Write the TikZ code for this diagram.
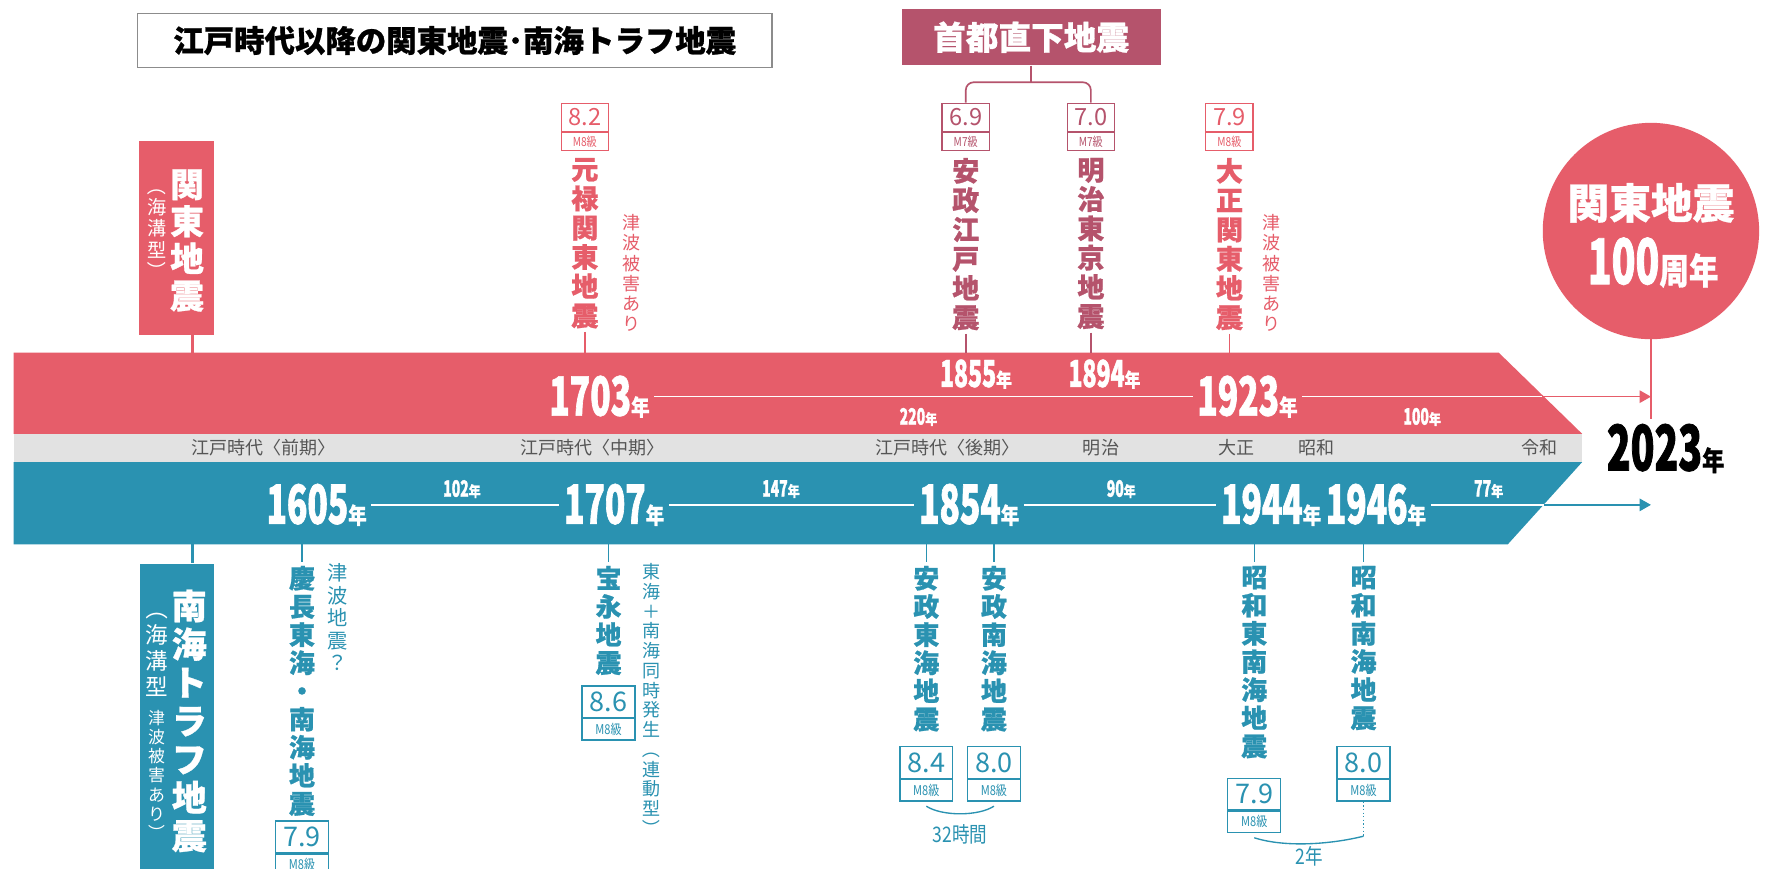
\documentclass[tikz,border=0pt]{standalone}
\usepackage{fontspec}
\usepackage{graphicx}
\setmainfont{Noto Sans CJK JP}[BoldFeatures={FakeBold=0.8}]
\newfontfamily\cond[FakeStretch=0.62, BoldFeatures={FakeBold=1.2}]{Noto Sans CJK JP}
\newfontfamily\narrow[FakeStretch=0.82, BoldFeatures={FakeBold=0.8}]{Noto Sans CJK JP}
\usetikzlibrary{arrows.meta}
\definecolor{kred}{HTML}{E65D6A}
\definecolor{kblue}{HTML}{2A92B1}
\definecolor{krose}{HTML}{B5536C}
\definecolor{kgray}{HTML}{E2E2E2}
\definecolor{ktext}{HTML}{555555}
\definecolor{kborder}{HTML}{8C8C8C}
\newcommand\yr[3]{{\cond\bfseries\fontsize{#2}{#2}\selectfont #1}{\narrow\bfseries\fontsize{#3}{#3}\selectfont 年}}
\newcommand\vlp{\rotatebox[origin=c]{-90}{（}}
\newcommand\vrp{\rotatebox[origin=c]{-90}{）}}
\begin{document}
\begin{tikzpicture}[x=1pt,y=-1pt,
  every node/.style={inner sep=0pt},
  vlab/.style={anchor=north, align=center, font=\bfseries\fontsize{24}{26}\selectfont},
  vlabB/.style={anchor=north, align=center, text=kblue, font=\bfseries\fontsize{23}{25}\selectfont},
  vnote/.style={anchor=north, align=center, font=\fontsize{16}{18}\selectfont},
  yrw/.style={text=white, inner sep=4pt},
  wline/.style={white, line width=1.3pt},
  tickl/.style={line width=1.3pt},
  magtop/.style={draw, line width=1.2pt, minimum width=42pt, minimum height=25pt, anchor=north, font=\fontsize{21}{21}\selectfont},
  magbot/.style={draw, line width=1.2pt, minimum width=42pt, minimum height=16pt, anchor=north, font=\narrow\fontsize{11}{11}\selectfont},
  magtopB/.style={magtop, draw=kblue, text=kblue, minimum width=47pt, minimum height=28pt, font=\fontsize{24}{24}\selectfont},
  magbotB/.style={magbot, draw=kblue, text=kblue, minimum width=47pt, minimum height=19pt, font=\narrow\fontsize{12}{12}\selectfont},
  era/.style={text=ktext, font=\fontsize{16}{16}\selectfont},
  arr/.style={line width=1.3pt, -{Triangle[length=10pt,width=11pt]}},
]
\useasboundingbox (0,0) rectangle (1568,771);
\fill[white] (0,0) rectangle (1568,771);
\clip (0,0) rectangle (1568,771);

% title and shuto box
\node[draw=kborder, line width=1.5pt, minimum width=563pt, minimum height=48pt, font=\bfseries\fontsize{27}{27}\selectfont] (title) at (403.5,36) {江戸時代以降の関東地震･南海トラフ地震};
\node[fill=krose, minimum width=230pt, minimum height=50pt, text=white, font=\bfseries\fontsize{29}{29}\selectfont] (shuto) at (915,33) {首都直下地震};

% bands
\fill[kred] (12,313) -- (1330,313) -- (1404,385) -- (12,385) -- cycle;
\fill[kgray] (12,385) rectangle (1404,410);
\fill[kblue] (12,410) -- (1404,410) -- (1338,483) -- (12,483) -- cycle;

% top magnitude boxes
\node[magtop, draw=kred, text=kred] (m82) at (519,91) {8.2};
\node[magbot, draw=kred, text=kred] (m82b) at (m82.south) {M8級};
\node[magtop, draw=krose, text=krose] (m69) at (857,91) {6.9};
\node[magbot, draw=krose, text=krose] (m69b) at (m69.south) {M7級};
\node[magtop, draw=krose, text=krose] (m70) at (968,91) {7.0};
\node[magbot, draw=krose, text=krose] (m70b) at (m70.south) {M7級};
\node[magtop, draw=kred, text=kred] (m79t) at (1091,91) {7.9};
\node[magbot, draw=kred, text=kred] (m79tb) at (m79t.south) {M8級};

% bracket
\coordinate (brj) at (915,73);
\draw[krose, line width=1.5pt, rounded corners=7pt] (m69.north) |- (brj) -| (m70.north);
\draw[krose, line width=1.5pt] (shuto.south) -- (brj);

% top labels
\node[vlab, text=kred] (genroku) at (519,140) {元\\禄\\関\\東\\地\\震};
\node[vnote, text=kred] (genrokuN) at (560,190) {津\\波\\被\\害\\あ\\り};
\node[vlab, text=krose] (ansei) at (857,140) {安\\政\\江\\戸\\地\\震};
\node[vlab, text=krose] (meiji) at (968,140) {明\\治\\東\\京\\地\\震};
\node[vlab, text=kred] (taisho) at (1091,140) {大\\正\\関\\東\\地\\震};
\node[vnote, text=kred] (taishoN) at (1128,190) {津\\波\\被\\害\\あ\\り};

\coordinate (rt1) at (519,313);
\coordinate (rt2) at (857,313);
\coordinate (rt3) at (968,313);
\coordinate (rt4) at (1091,313);
\draw[tickl, kred] ([yshift=-3pt]genroku.south) -- (rt1);
\draw[tickl, krose] ([yshift=-3pt]ansei.south) -- (rt2);
\draw[tickl, krose] ([yshift=-3pt]meiji.south) -- (rt3);
\draw[tickl, kred] ([yshift=-3pt]taisho.south) -- (rt4);

% Kanto box
\node[fill=kred, minimum width=67pt, minimum height=172pt, anchor=north west] (kbox) at (123,125) {};
\node[anchor=north, align=center, text=white, font=\bfseries\fontsize{30}{33}\selectfont] (kboxT) at (166,150) {関\\東\\地\\震};
\node[anchor=north, align=center, text=white, font=\fontsize{17}{19}\selectfont] (kboxS) at (139,156) {\vlp\\海\\溝\\型\\\vrp};
\coordinate (ktop) at (171,313);
\draw[kred, line width=3pt] (kbox.south -| ktop) -- (ktop);

% 100th anniversary circle
\node[circle, fill=kred, minimum size=192pt] (c100) at (1465,205) {};
\node[text=white, font=\bfseries\fontsize{37}{37}\selectfont] (c100a) at (1465,180) {関東地震};
\node[text=white] (c100b) at (1467,233) {{\cond\bfseries\fontsize{56}{56}\selectfont 100}{\narrow\bfseries\fontsize{32}{32}\selectfont 周年}};
\coordinate (vEnd) at (1465,372);
\draw[kred, line width=1.5pt] (c100.south) -- (vEnd);

% red band years
\node[yrw] (y1703) at (532,352) {\yr{1703}{48}{20}};
\node[yrw] (y1923) at (1107,352) {\yr{1923}{48}{20}};
\node[yrw] (y1855) at (866,332) {\yr{1855}{33}{17}};
\node[yrw] (y1894) at (980,332) {\yr{1894}{33}{17}};
\node[yrw] (d220) at (815,370) {\yr{220}{20}{13}};
\node[yrw] (d100) at (1262,370) {\yr{100}{20}{13}};
\coordinate (rArrow) at (1465,352);
\coordinate (rEdge) at (1368,352);
\draw[wline] (y1703) -- (y1923);
\draw[arr, kred] (y1923) -- (rArrow);
\draw[wline] (y1923) -- (rEdge);

% era strip
\node[era] (e1) at (234,397) {江戸時代〈前期〉};
\node[era] (e2) at (526,397) {江戸時代〈中期〉};
\node[era] (e3) at (841,397) {江戸時代〈後期〉};
\node[era] (e4) at (977,397) {明治};
\node[era] (e5) at (1097,397) {大正};
\node[era] (e6) at (1168,397) {昭和};
\node[era] (e7) at (1366,397) {令和};
\node (y2023) at (1478,398) {\yr{2023}{56}{24}};

% blue band years
\node[yrw] (y1605) at (281,448) {\yr{1605}{48}{20}};
\node[yrw] (y1707) at (545,448) {\yr{1707}{48}{20}};
\node[yrw] (y1854) at (860,448) {\yr{1854}{48}{20}};
\node[yrw] (y1944) at (1128,448) {\yr{1944}{48}{20}};
\node[yrw] (y1946) at (1221,448) {\yr{1946}{48}{20}};
\node[yrw] (d102) at (410,434) {\yr{102}{20}{13}};
\node[yrw] (d147) at (693,434) {\yr{147}{20}{13}};
\node[yrw] (d90) at (995,434) {\yr{90}{20}{13}};
\node[yrw] (d77) at (1321,434) {\yr{77}{20}{13}};
\coordinate (bArrow) at (1465,448);
\coordinate (bEdge) at (1370,448);
\draw[wline] (y1605) -- (y1707);
\draw[wline] (y1707) -- (y1854);
\draw[wline] (y1854) -- (y1944);
\draw[arr, kblue] (y1946) -- (bArrow);
\draw[wline] (y1946) -- (bEdge);

% Nankai box
\node[fill=kblue, minimum width=66pt, minimum height=272pt, anchor=north west] (nbox) at (124,500) {};
\node[anchor=north, align=center, text=white, font=\bfseries\fontsize{31}{34}\selectfont] (nboxT) at (168,523) {南\\海\\ト\\ラ\\フ\\地\\震};
\node[anchor=north, align=center, text=white, font=\fontsize{20}{23}\selectfont] (nboxS1) at (139,530) {\vlp\\海\\溝\\型};
\node[anchor=north, align=center, text=white, font=\fontsize{15}{17}\selectfont] (nboxS2) at (139,630) {津\\波\\被\\害\\あ\\り\\\vrp};
\coordinate (nbt) at (171,483);
\draw[kblue, line width=3pt] (nbt) -- (nbt |- nbox.north);

% lower labels
\node[vlabB] (keicho) at (268,502) {慶\\長\\東\\海\\・\\南\\海\\地\\震};
\node[vnote, text=kblue, font=\fontsize{18}{20}\selectfont] (keichoN) at (300,500) {津\\波\\地\\震\\？};
\node[magtopB] (m79a) at (268,728) {7.9};
\node[magbotB] (m79ab) at (m79a.south) {M8級};

\node[vlabB] (hoei) at (540,502) {宝\\永\\地\\震};
\node[magtopB] (m86) at (540,608) {8.6};
\node[magbotB] (m86b) at (m86.south) {M8級};
\node[vnote, text=kblue, font=\fontsize{16}{17.5}\selectfont] (hoeiN) at (578,500) {東\\海\\＋\\南\\海\\同\\時\\発\\生\\\vlp\\連\\動\\型\\\vrp};

\node[vlabB] (anseiT) at (822,502) {安\\政\\東\\海\\地\\震};
\node[vlabB] (anseiN) at (882,502) {安\\政\\南\\海\\地\\震};
\node[magtopB] (m84) at (822,662) {8.4};
\node[magbotB] (m84b) at (m84.south) {M8級};
\node[magtopB] (m80a) at (882,662) {8.0};
\node[magbotB] (m80ab) at (m80a.south) {M8級};
\draw[kblue, line width=1.2pt] ([yshift=-4pt]m84b.south) .. controls +(14,9) and +(-14,9) .. ([yshift=-4pt]m80ab.south);
\node[text=kblue, font=\narrow\fontsize{19}{19}\selectfont] (h32) at (852,740) {32時間};

\node[vlabB] (showaT) at (1113,502) {昭\\和\\東\\南\\海\\地\\震};
\node[vlabB] (showaN) at (1210,502) {昭\\和\\南\\海\\地\\震};
\node[magtopB] (m79b) at (1113,690) {7.9};
\node[magbotB] (m79bb) at (m79b.south) {M8級};
\node[magtopB] (m80b) at (1210,662) {8.0};
\node[magbotB] (m80bb) at (m80b.south) {M8級};
\coordinate (dotEnd) at (1210,742);
\draw[kblue, dotted, line width=1.2pt] (m80bb.south) -- (dotEnd);
\draw[kblue, line width=1.2pt] ([yshift=-4pt]m79bb.south) .. controls +(28,9) and +(-28,7) .. (dotEnd);
\node[text=kblue, font=\narrow\fontsize{19}{19}\selectfont] (y2) at (1162,760) {2年};

% blue ticks
\coordinate (bb1) at (268,483);
\coordinate (bb2) at (540,483);
\coordinate (bb3) at (822,483);
\coordinate (bb4) at (882,483);
\coordinate (bb5) at (1113,483);
\coordinate (bb6) at (1210,483);
\draw[tickl, kblue] (bb1) -- ([yshift=3pt]keicho.north);
\draw[tickl, kblue] (bb2) -- ([yshift=3pt]hoei.north);
\draw[tickl, kblue] (bb3) -- ([yshift=3pt]anseiT.north);
\draw[tickl, kblue] (bb4) -- ([yshift=3pt]anseiN.north);
\draw[tickl, kblue] (bb5) -- ([yshift=3pt]showaT.north);
\draw[tickl, kblue] (bb6) -- ([yshift=3pt]showaN.north);
\end{tikzpicture}
\end{document}
